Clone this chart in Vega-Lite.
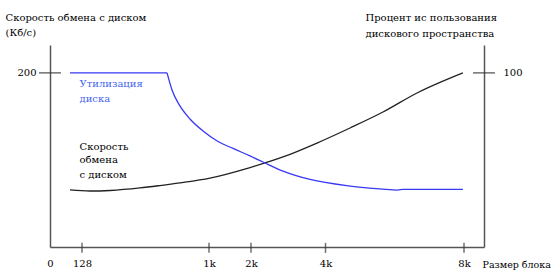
{
  "$schema": "https://vega.github.io/schema/vega-lite/v6.json",
  "width": 434,
  "height": 202,
  "autosize": {"type": "none"},
  "padding": {"left": 50, "top": 45, "right": 70, "bottom": 30},
  "background": "white",
  "config": {
    "font": "DejaVu Serif",
    "view": {"stroke": null},
    "axis": {
      "grid": false, "ticks": false, "tickSize": 0,
      "domainColor": "#555", "domainWidth": 1.5,
      "labelFont": "DejaVu Serif", "labelFontSize": 10, "labelColor": "#000",
      "labelFlush": false, "labelOverlap": false,
      "titleFont": "DejaVu Serif", "titleFontSize": 10, "titleFontWeight": "normal", "titleColor": "#000"
    }
  },
  "datasets": {
    "rate": [
      {"size": 80, "kbps": 65.5}, {"size": 184, "kbps": 64.3}, {"size": 326, "kbps": 64.9},
      {"size": 537, "kbps": 67.8}, {"size": 678, "kbps": 70.6}, {"size": 819, "kbps": 73.7},
      {"size": 1048, "kbps": 79.2}, {"size": 2024, "kbps": 91.3}, {"size": 2928, "kbps": 103.4},
      {"size": 3862, "kbps": 119.4}, {"size": 4821, "kbps": 136.7}, {"size": 5796, "kbps": 155.0},
      {"size": 6802, "kbps": 176.9}, {"size": 8160, "kbps": 200}
    ],
    "util": [
      {"seg": "flat", "size": 80, "pct": 100}, {"seg": "flat", "size": 728, "pct": 100},
      {"seg": "drop", "size": 728, "pct": 100}, {"seg": "drop", "size": 763, "pct": 90.2},
      {"seg": "drop", "size": 819, "pct": 81.0}, {"seg": "drop", "size": 890, "pct": 73.5},
      {"seg": "drop", "size": 982, "pct": 66.6}, {"seg": "drop", "size": 1243, "pct": 60.6},
      {"seg": "drop", "size": 1609, "pct": 56.6}, {"seg": "drop", "size": 2024, "pct": 52.3},
      {"seg": "drop", "size": 2378, "pct": 48.8}, {"seg": "drop", "size": 2928, "pct": 43.6},
      {"seg": "drop", "size": 3670, "pct": 38.8}, {"seg": "drop", "size": 4821, "pct": 35.0},
      {"seg": "drop", "size": 6211, "pct": 32.7},
      {"seg": "tail", "size": 6211, "pct": 32.7}, {"seg": "tail", "size": 6388, "pct": 33.1}, {"seg": "tail", "size": 8160, "pct": 33.1}
    ],
    "rateText": [
      {"size": 118, "kbps": 114.9, "label": "Скорость"},
      {"size": 118, "kbps": 99.9, "label": "обмена"},
      {"size": 118, "kbps": 82.7, "label": "с диском"}
    ],
    "utilText": [
      {"size": 118, "pct": 93.6, "label": "Утилизация"},
      {"size": 118, "pct": 85.0, "label": "диска"}
    ],
    "xticks": [
      {"size": 128, "kbps": -1}, {"size": 1024, "kbps": -1}, {"size": 2048, "kbps": -1},
      {"size": 4096, "kbps": -1}, {"size": 8192, "kbps": -1}
    ],
    "leftTick": [{"size": 0, "kbps": 200}],
    "rightTick": [{"size": 8700, "pct": 100}]
  },
  "encoding": {
    "x": {
      "field": "size", "type": "quantitative",
      "scale": {"domain": [0, 128, 1024, 2048, 4096, 8192, 8700], "range": [0, 32, 159, 201, 275.5, 414, 434], "nice": false, "zero": false},
      "axis": {
        "values": [0, 128, 1024, 2048, 4096, 8192],
        "format": "d",
        "labelExpr": "datum.value < 1000 ? datum.label : (datum.value / 1024) + 'k'",
        "labelPadding": 11,
        "title": "Размер блока", "titleFontSize": 9.5,
        "titleAngle": 0, "titleAlign": "left", "titleBaseline": "middle",
        "titleX": 432, "titleY": 17
      }
    }
  },
  "layer": [
    {
      "encoding": {
        "y": {
          "field": "kbps", "type": "quantitative",
          "scale": {"domain": [0, 232], "nice": false},
          "axis": {
            "orient": "left", "values": [200], "labelPadding": 14,
            "title": ["Скорость обмена с диском", "(Кб/с)"],
            "titleAngle": 0, "titleAlign": "left", "titleBaseline": "middle",
            "titleX": -45, "titleY": -27.5, "titleLineHeight": 15
          }
        }
      },
      "layer": [
        {
          "data": {"name": "rate"},
          "mark": {"type": "line", "interpolate": "monotone", "color": "#222", "strokeWidth": 1.3}
        },
        {
          "data": {"name": "rateText"},
          "mark": {"type": "text", "align": "left", "baseline": "middle", "fontSize": 10, "color": "#000", "font": "DejaVu Serif"},
          "encoding": {"text": {"field": "label"}}
        },
        {
          "data": {"name": "xticks"},
          "mark": {"type": "tick", "orient": "vertical", "size": 10, "thickness": 1.5, "color": "#333"}
        },
        {
          "data": {"name": "leftTick"},
          "mark": {"type": "tick", "orient": "horizontal", "size": 22, "thickness": 1.5, "color": "#333"}
        }
      ]
    },
    {
      "encoding": {
        "y": {
          "field": "pct", "type": "quantitative",
          "scale": {"domain": [0, 116], "nice": false},
          "axis": {
            "orient": "right", "values": [100], "labelPadding": 19,
            "title": ["Процент ис пользования", "дискового пространства"],
            "titleAngle": 0, "titleAlign": "left", "titleBaseline": "middle",
            "titleX": -119, "titleY": -28, "titleLineHeight": 16
          }
        }
      },
      "layer": [
        {
          "data": {"name": "util"},
          "mark": {"type": "line", "interpolate": "monotone", "color": "#3838f5", "strokeWidth": 1.3},
          "encoding": {"detail": {"field": "seg"}}
        },
        {
          "data": {"name": "utilText"},
          "mark": {"type": "text", "align": "left", "baseline": "middle", "fontSize": 10, "color": "#4466ee", "font": "DejaVu Serif"},
          "encoding": {"text": {"field": "label"}}
        },
        {
          "data": {"name": "rightTick"},
          "mark": {"type": "tick", "orient": "horizontal", "size": 22, "thickness": 1.5, "color": "#333"}
        }
      ]
    }
  ],
  "resolve": {"scale": {"y": "independent"}}
}
